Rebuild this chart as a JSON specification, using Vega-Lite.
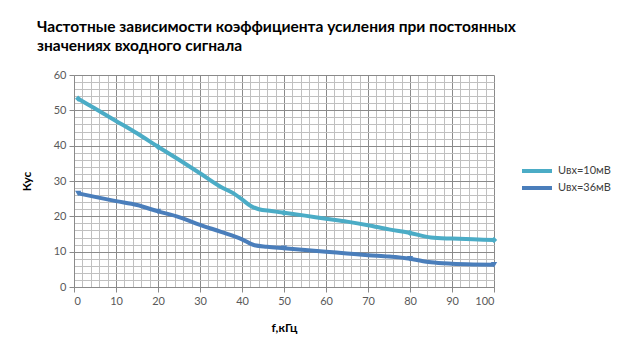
{
  "$schema": "https://vega.github.io/schema/vega-lite/v6.json",
  "autosize": "none",
  "width": 420,
  "height": 212,
  "padding": {"left": 74, "top": 75, "right": 130, "bottom": 67},
  "background": "white",
  "config": {"font": "Lato", "view": {"stroke": null}},
  "title": {
    "text": ["Частотные зависимости коэффициента усиления при постоянных", "значениях входного сигнала"],
    "anchor": "start",
    "frame": "group",
    "dx": -37,
    "offset": 15,
    "fontSize": 15.5,
    "fontWeight": "bold",
    "color": "#000000",
    "lineHeight": 19,
    "font": "Lato"
  },
  "datasets": {
    "d": [
      {"f": 1, "k": 53.3, "s": "Uвх=10мВ"},
      {"f": 5, "k": 50.5, "s": "Uвх=10мВ"},
      {"f": 10, "k": 47, "s": "Uвх=10мВ"},
      {"f": 15, "k": 43.5, "s": "Uвх=10мВ"},
      {"f": 20, "k": 39.7, "s": "Uвх=10мВ"},
      {"f": 25, "k": 36, "s": "Uвх=10мВ"},
      {"f": 30, "k": 32.2, "s": "Uвх=10мВ"},
      {"f": 35, "k": 28.3, "s": "Uвх=10мВ"},
      {"f": 38, "k": 26.5, "s": "Uвх=10мВ"},
      {"f": 40, "k": 24.8, "s": "Uвх=10мВ"},
      {"f": 42, "k": 23, "s": "Uвх=10мВ"},
      {"f": 44, "k": 22, "s": "Uвх=10мВ"},
      {"f": 47, "k": 21.5, "s": "Uвх=10мВ"},
      {"f": 50, "k": 21, "s": "Uвх=10мВ"},
      {"f": 55, "k": 20.2, "s": "Uвх=10мВ"},
      {"f": 60, "k": 19.3, "s": "Uвх=10мВ"},
      {"f": 65, "k": 18.5, "s": "Uвх=10мВ"},
      {"f": 70, "k": 17.5, "s": "Uвх=10мВ"},
      {"f": 75, "k": 16.3, "s": "Uвх=10мВ"},
      {"f": 80, "k": 15.3, "s": "Uвх=10мВ"},
      {"f": 85, "k": 14, "s": "Uвх=10мВ"},
      {"f": 90, "k": 13.7, "s": "Uвх=10мВ"},
      {"f": 95, "k": 13.5, "s": "Uвх=10мВ"},
      {"f": 100, "k": 13.3, "s": "Uвх=10мВ"},
      {"f": 1, "k": 26.5, "s": "Uвх=36мВ"},
      {"f": 5, "k": 25.5, "s": "Uвх=36мВ"},
      {"f": 10, "k": 24.3, "s": "Uвх=36мВ"},
      {"f": 15, "k": 23.2, "s": "Uвх=36мВ"},
      {"f": 20, "k": 21.4, "s": "Uвх=36мВ"},
      {"f": 25, "k": 19.8, "s": "Uвх=36мВ"},
      {"f": 30, "k": 17.6, "s": "Uвх=36мВ"},
      {"f": 35, "k": 15.6, "s": "Uвх=36мВ"},
      {"f": 40, "k": 13.5, "s": "Uвх=36мВ"},
      {"f": 43, "k": 11.8, "s": "Uвх=36мВ"},
      {"f": 46, "k": 11.4, "s": "Uвх=36мВ"},
      {"f": 50, "k": 11, "s": "Uвх=36мВ"},
      {"f": 55, "k": 10.5, "s": "Uвх=36мВ"},
      {"f": 60, "k": 10, "s": "Uвх=36мВ"},
      {"f": 65, "k": 9.5, "s": "Uвх=36мВ"},
      {"f": 70, "k": 9, "s": "Uвх=36мВ"},
      {"f": 75, "k": 8.6, "s": "Uвх=36мВ"},
      {"f": 80, "k": 8, "s": "Uвх=36мВ"},
      {"f": 85, "k": 7, "s": "Uвх=36мВ"},
      {"f": 90, "k": 6.6, "s": "Uвх=36мВ"},
      {"f": 95, "k": 6.4, "s": "Uвх=36мВ"},
      {"f": 100, "k": 6.3, "s": "Uвх=36мВ"}
    ]
  },
  "data": {"name": "d"},
  "encoding": {
    "x": {
      "field": "f", "type": "quantitative",
      "scale": {"domain": [0, 100], "nice": false},
      "axis": {
        "title": "f,кГц",
        "values": [0,2,4,6,8,10,12,14,16,18,20,22,24,26,28,30,32,34,36,38,40,42,44,46,48,50,52,54,56,58,60,62,64,66,68,70,72,74,76,78,80,82,84,86,88,90,92,94,96,98,100],
        "labelExpr": "datum.value % 10 === 0 ? datum.label : ''",
        "gridColor": {"condition": {"test": "datum.value % 10 === 0", "value": "#8a8a8a"}, "value": "#c0c0c0"},
        "tickOpacity": {"condition": {"test": "datum.value % 10 === 0", "value": 1}, "value": 0},
        "grid": true,
        "gridWidth": 1,
        "tickColor": "#8a8a8a",
        "tickSize": 5,
        "domainColor": "#8a8a8a",
        "labelFontSize": 11,
        "labelColor": "#595959",
        "labelPadding": 3,
        "titleFontSize": 12,
        "titleFontWeight": "bold",
        "titleColor": "#000000",
        "titlePadding": 16
      }
    },
    "y": {
      "field": "k", "type": "quantitative",
      "scale": {"domain": [0, 60], "nice": false},
      "axis": {
        "title": "Кус",
        "values": [0,2,4,6,8,10,12,14,16,18,20,22,24,26,28,30,32,34,36,38,40,42,44,46,48,50,52,54,56,58,60],
        "labelExpr": "datum.value % 10 === 0 ? datum.label : ''",
        "gridColor": {"condition": {"test": "datum.value % 10 === 0", "value": "#8a8a8a"}, "value": "#c0c0c0"},
        "tickOpacity": {"condition": {"test": "datum.value % 10 === 0", "value": 1}, "value": 0},
        "grid": true,
        "gridWidth": 1,
        "tickColor": "#8a8a8a",
        "tickSize": 5,
        "domainColor": "#8a8a8a",
        "labelFontSize": 11,
        "labelColor": "#595959",
        "labelPadding": 3,
        "titleFontSize": 12,
        "titleFontWeight": "bold",
        "titleColor": "#000000",
        "titlePadding": 20
      }
    },
    "color": {
      "field": "s", "type": "nominal",
      "scale": {"domain": ["Uвх=10мВ", "Uвх=36мВ"], "range": ["#4bacc6", "#4a7ebb"]},
      "legend": {
        "title": null,
        "orient": "none",
        "legendX": 446,
        "legendY": 89,
        "symbolType": "M-1,0H5",
        "symbolStrokeWidth": 4,
        "symbolSize": 100,
        "symbolFillColor": "transparent",
        "labelFontSize": 11,
        "labelColor": "#404040",
        "rowPadding": 1,
        "labelOffset": 24
      }
    }
  },
  "layer": [
    {"mark": {"type": "line", "strokeWidth": 4, "interpolate": "monotone"}},
    {
      "transform": [{"filter": "datum.s === 'Uвх=10мВ' && (datum.f === 1 || datum.f === 20 || datum.f === 50 || datum.f === 80 || datum.f === 100)"}],
      "mark": {"type": "point", "filled": true, "size": 40, "opacity": 1, "shape": "diamond"}
    },
    {
      "transform": [{"filter": "datum.s === 'Uвх=36мВ' && (datum.f === 1 || datum.f === 20 || datum.f === 50 || datum.f === 80 || datum.f === 100)"}],
      "mark": {"type": "point", "filled": true, "size": 40, "opacity": 1, "shape": "triangle-down"}
    }
  ]
}
